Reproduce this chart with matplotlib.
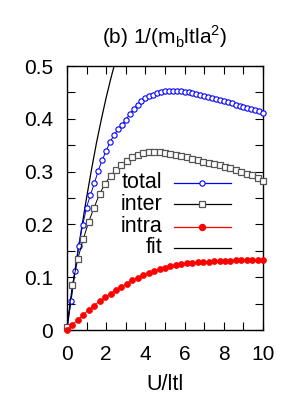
import numpy as np
import matplotlib
matplotlib.use('Agg')
import matplotlib.pyplot as plt

plt.rcParams['font.family'] = ['Liberation Sans', 'DejaVu Sans']

# total: U = 0, 0.2, ..., 10
u_total = np.arange(51) * 0.2
total = [0.005, 0.055, 0.112, 0.160, 0.198, 0.232, 0.256, 0.278, 0.302, 0.322,
         0.339, 0.356, 0.369, 0.380, 0.389, 0.398, 0.409, 0.418, 0.426, 0.433,
         0.439, 0.443, 0.446, 0.449, 0.451, 0.452, 0.453, 0.453, 0.453, 0.452,
         0.451, 0.450, 0.448, 0.447, 0.445, 0.443, 0.441, 0.439, 0.437, 0.435,
         0.433, 0.431, 0.429, 0.427, 0.425, 0.423, 0.421, 0.419, 0.417, 0.414,
         0.411]

# inter / intra: 37 points from 0 to 10
u_part = np.linspace(0, 10, 37)
inter = [0.005, 0.085, 0.135, 0.172, 0.205, 0.232, 0.258, 0.277, 0.292, 0.303,
         0.312, 0.320, 0.327, 0.332, 0.335, 0.337, 0.338, 0.337, 0.336, 0.334,
         0.331, 0.329, 0.327, 0.324, 0.322, 0.319, 0.317, 0.314, 0.312, 0.309,
         0.306, 0.303, 0.300, 0.296, 0.293, 0.288, 0.283]
intra = [0.0, 0.010, 0.019, 0.029, 0.038, 0.046, 0.055, 0.062, 0.069, 0.076,
         0.082, 0.088, 0.094, 0.099, 0.104, 0.108, 0.111, 0.115, 0.118, 0.121,
         0.123, 0.125, 0.126, 0.127, 0.128, 0.129, 0.129, 0.130, 0.130, 0.131,
         0.131, 0.132, 0.132, 0.132, 0.132, 0.132, 0.132]

# fit curve
u_fit = [0.0, 0.25, 0.5, 0.75, 1.0, 1.25, 1.5, 1.75, 2.0, 2.25, 2.5, 2.75]
fit = [0.0, 0.068, 0.133, 0.193, 0.250, 0.303, 0.353, 0.398, 0.440, 0.478,
       0.513, 0.545]

blue = '#0000ff'
red = '#ff0000'
gray = '#555555'
fs = 15

fig = plt.figure(figsize=(3, 4), dpi=100)
ax = fig.add_axes([0.223, 0.175, 0.654, 0.66])

ax.plot(u_fit, fit, color='black', lw=0.9, zorder=2)
ax.plot(u_total, total, color=blue, lw=0.7, marker='o', ms=3.8, mfc='white',
        mec=blue, mew=0.8, zorder=3, clip_on=False)
ax.plot(u_part, inter, color='black', lw=0.7, marker='s', ms=3.8, mfc='white',
        mec=gray, mew=0.9, zorder=3, clip_on=False)
ax.plot(u_part, intra, color=red, lw=0.7, marker='o', ms=4.3, mfc=red,
        mec=red, mew=0.5, zorder=4, clip_on=False)

ax.set_xlim(0, 10)
ax.set_ylim(0, 0.5)
ax.set_xticks([0, 2, 4, 6, 8, 10])
ax.set_xticks([1, 3, 5, 7, 9], minor=True)
ax.set_yticks([0, 0.1, 0.2, 0.3, 0.4, 0.5])
ax.set_yticklabels(['0', '0.1', '0.2', '0.3', '0.4', '0.5'])
ax.set_yticks([0.05, 0.15, 0.25, 0.35, 0.45], minor=True)
ax.tick_params(which='both', direction='in', top=True, right=True,
               length=6, width=0.8, labelsize=fs)
ax.tick_params(axis='x', pad=11)
ax.tick_params(axis='y', pad=10)
for s in ax.spines.values():
    s.set_linewidth(1.0)

ax.set_xlabel('U/ltl', fontsize=fs + 0.5, labelpad=7)
ax.set_title('(b) 1/(m$_{\\mathregular{b}}$ltla$^{\\mathregular{2}}$)',
             fontsize=fs, pad=16)

# key drawn gnuplot-style: label right-aligned, sample to the right
labels = ['total', 'inter', 'intra', 'fit']
styles = [dict(color=blue, marker='o', mfc='white', mec=blue, ms=3.8, mew=0.8),
          dict(color='black', marker='s', mfc='white', mec=gray, ms=3.8, mew=0.9),
          dict(color=red, marker='o', mfc=red, mec=red, ms=4.3),
          dict(color='black', marker=None)]
rows = [0.557, 0.477, 0.392, 0.311]
for lab, st, yy in zip(labels, styles, rows):
    ax.text(0.485, yy, lab, transform=ax.transAxes, ha='right', va='center',
            fontsize=fs + 0.5)
    ax.plot([0.546, 0.837], [yy, yy], transform=ax.transAxes, lw=0.9,
            color=st['color'], zorder=5)
    if st['marker']:
        ax.plot([0.69], [yy], transform=ax.transAxes, lw=0,
                **{k: v for k, v in st.items() if k != 'color'}, zorder=6)

fig.savefig('out.png', dpi=100)
